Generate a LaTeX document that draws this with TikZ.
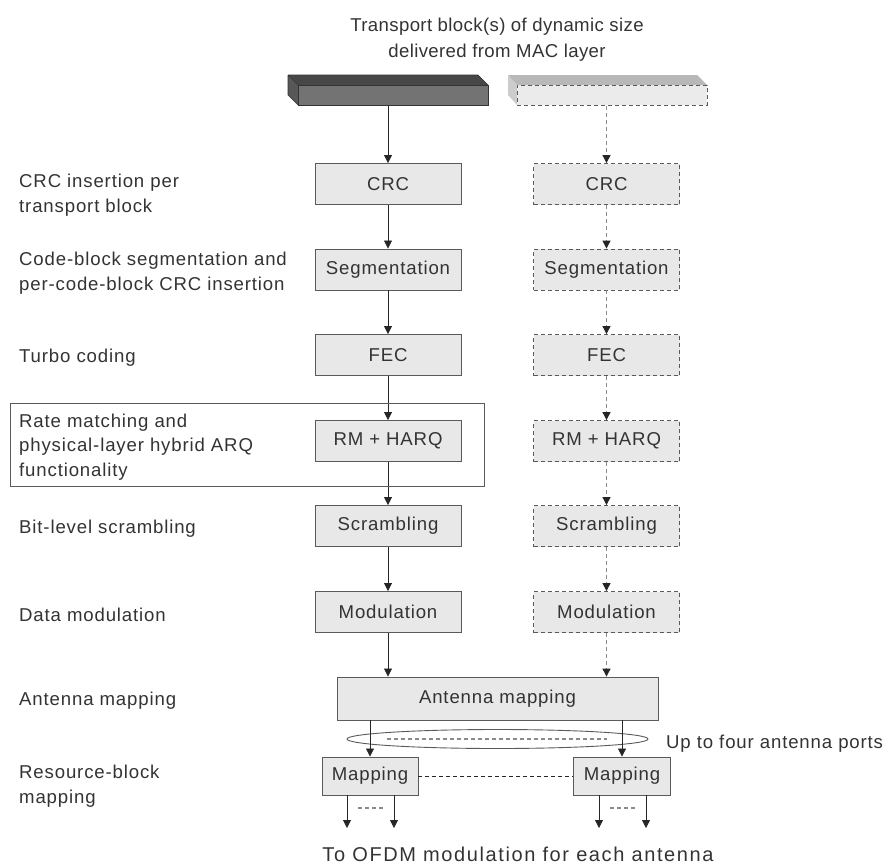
\documentclass[tikz,border=0pt]{standalone}
\usepackage{fontspec}
\setmainfont[LetterSpace=4.6]{Liberation Sans}
\newfontfamily\titlefont[LetterSpace=2]{Liberation Sans}
\newfontfamily\widefont[LetterSpace=8]{Liberation Sans}
\usetikzlibrary{arrows.meta,shapes.geometric}
\definecolor{boxfill}{HTML}{E8E8E8}
\definecolor{boxline}{HTML}{5A5A5A}
\definecolor{dashline}{HTML}{8A8A8A}
\definecolor{txt}{HTML}{333333}
\begin{document}
\begin{tikzpicture}[x=1pt,y=-1pt,
  every node/.style={text=txt,font=\fontsize{18.6}{24.5}\selectfont,inner sep=0pt},
  box/.style={draw=boxline,fill=boxfill,line width=0.9pt,minimum width=146pt,minimum height=41pt},
  dbox/.style={box,dashed,dash pattern=on 4pt off 3pt},
  lab/.style={anchor=west,align=left},
  arr/.style={-{Triangle[length=8pt,width=8pt]},draw=black!85,line width=0.8pt},
  darr/.style={-{Triangle[length=8pt,width=8pt,color=black!85]},draw=dashline,line width=1.1pt,dash pattern=on 4pt off 3pt},
]
\useasboundingbox (0,0) rectangle (886,865);

% title
\node[align=center,font=\titlefont\fontsize{18.6}{26}\selectfont] (title) at (497,40) {Transport block(s) of dynamic size\\delivered from MAC layer};

% 3D blocks
\fill[fill=black!72] (288,75) -- (478,75) -- (488,85) -- (298,85) -- cycle;
\fill[fill=black!66] (288,75) -- (298,85) -- (298,105) -- (288,95) -- cycle;
\node[draw=black!80,fill=black!55,line width=0.8pt,minimum width=190pt,minimum height=20pt,anchor=north west] (blk1) at (298,85) {};
\draw[black!80,line width=0.6pt] (288,75) -- (478,75) -- (488,85) (288,75) -- (298,85) (288,75) -- (288,95) -- (298,105);

\fill[fill=black!28] (508,75) -- (697,75) -- (707,85) -- (517,85) -- cycle;
\fill[fill=black!20] (508,75) -- (517,85) -- (517,105) -- (508,95) -- cycle;
\node[draw=boxline,fill=black!8,dashed,dash pattern=on 4pt off 3pt,line width=0.9pt,minimum width=190pt,minimum height=20pt,anchor=north west] (blk2) at (517,85) {};

% left column
\node[box] (crc1) at (388,184) {CRC};
\node[box] (seg1) at (388,269.5) {Segmentation};
\node[box] (fec1) at (388,355) {FEC};
\node[box] (rm1) at (388,441) {RM + HARQ};
\node[box] (scr1) at (388,526) {Scrambling};
\node[box] (mod1) at (388,612) {Modulation};

% right column
\node[dbox] (crc2) at (606.5,184) {CRC};
\node[dbox] (seg2) at (606.5,269.5) {Segmentation};
\node[dbox] (fec2) at (606.5,355) {FEC};
\node[dbox] (rm2) at (606.5,441) {RM + HARQ};
\node[dbox] (scr2) at (606.5,526) {Scrambling};
\node[dbox] (mod2) at (606.5,612) {Modulation};

% antenna mapping
\node[box,minimum width=321pt,minimum height=43pt] (am) at (497.5,698.5) {Antenna mapping};
\node[draw=boxline,line width=0.9pt,ellipse,minimum width=301pt,minimum height=19pt] (ell) at (497.5,739) {};
\coordinate (ea) at (387,739);
\coordinate (eb) at (607,739);
\draw[dashline,line width=1.1pt,dash pattern=on 4pt off 3pt] (ea) -- (eb);

\node[box,minimum width=96pt,minimum height=38pt] (map1) at (370,776) {Mapping};
\node[box,minimum width=97pt,minimum height=38pt] (map2) at (622,776) {Mapping};
\draw[black!85,line width=0.8pt,dash pattern=on 4pt off 3pt] (map1) -- (map2);

% arrows left
\draw[arr] (blk1.south -| crc1.north) -- (crc1.north);
\draw[arr] (crc1) -- (seg1);
\draw[arr] (seg1) -- (fec1);
\draw[arr] (fec1) -- (rm1);
\draw[arr] (rm1) -- (scr1);
\draw[arr] (scr1) -- (mod1);
\draw[arr] (mod1) -- (mod1 |- am.north);

% arrows right
\draw[darr] (blk2.south -| crc2.north) -- (crc2.north);
\draw[darr] (crc2) -- (seg2);
\draw[darr] (seg2) -- (fec2);
\draw[darr] (fec2) -- (rm2);
\draw[darr] (rm2) -- (scr2);
\draw[darr] (scr2) -- (mod2);
\draw[darr] (mod2) -- (mod2 |- am.north);

\draw[arr] (am.south -| map1.north) -- (map1.north);
\draw[arr] (am.south -| map2.north) -- (map2.north);

% output arrows
\coordinate (o1) at (347,828);
\coordinate (o2) at (394,828);
\coordinate (o3) at (599,828);
\coordinate (o4) at (646,828);
\draw[arr] (map1.south -| o1) -- (o1);
\draw[arr] (map1.south -| o2) -- (o2);
\draw[arr] (map2.south -| o3) -- (o3);
\draw[arr] (map2.south -| o4) -- (o4);
\coordinate (g1) at (358,808);
\coordinate (g2) at (383,808);
\coordinate (g3) at (610,808);
\coordinate (g4) at (635,808);
\draw[dashline,line width=1.1pt,dash pattern=on 4pt off 3pt] (g1) -- (g2);
\draw[dashline,line width=1.1pt,dash pattern=on 4pt off 3pt] (g3) -- (g4);

\node[font=\widefont\fontsize{20}{24}\selectfont] (bottom) at (518,854) {To OFDM modulation for each antenna};
\node[anchor=west] (ports) at (666,744) {Up to four antenna ports};

% left labels
\node[lab] (l1) at (19,195) {CRC insertion per\\transport block};
\node[lab] (l2) at (19,273) {Code-block segmentation and\\per-code-block CRC insertion};
\node[lab] (l3) at (19,358) {Turbo coding};
\node[draw=boxline,line width=0.9pt,minimum width=474pt,minimum height=83pt,anchor=north west] (rmframe) at (10,403) {};
\node[lab] (l4) at (19,447) {Rate matching and\\physical-layer hybrid ARQ\\functionality};
\node[lab] (l5) at (19,529) {Bit-level scrambling};
\node[lab] (l6) at (19,615) {Data modulation};
\node[lab] (l7) at (19,701) {Antenna mapping};
\node[lab] (l8) at (19,786) {Resource-block\\mapping};
\end{tikzpicture}
\end{document}
